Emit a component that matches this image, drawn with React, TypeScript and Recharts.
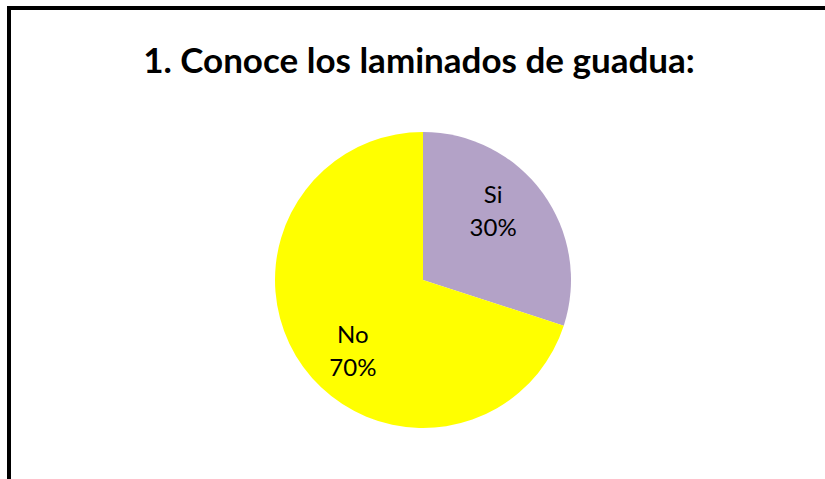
import { PieChart, Pie, Cell } from 'recharts'

const categories = ['Si', 'No']
const values = [30, 70]
const colors = ['#B3A2C7', '#FFFF00']

const data = categories.map((name, i) => ({ name, value: values[i] }))

const RAD = Math.PI / 180

function renderLabel(props: any) {
    const { cx, cy, midAngle, outerRadius, name, percent } = props
    const a = (midAngle + 9) * RAD
    const r = outerRadius * 0.67
    const x = cx + r * Math.cos(a)
    const y = cy - r * Math.sin(a)
    return (
        <text x={x} y={y} textAnchor="middle" fill="#000" fontFamily="Lato, 'Open Sans', sans-serif" fontSize={24}>
            <tspan x={x} dy={-7}>{name}</tspan>
            <tspan x={x} dy={33}>{`${Math.round(percent * 100)}%`}</tspan>
        </text>
    )
}

export default function App() {
    return (
        <div style={{ position: 'absolute', left: 0, top: 0, width: 825, height: 479, overflow: 'hidden', background: '#fff' }}>
            {/* frame: only top and left edges fall inside the picture */}
            <div style={{ position: 'absolute', left: 7, top: 6, width: 818, height: 4, background: '#000' }} />
            <div style={{ position: 'absolute', left: 7, top: 6, width: 4, height: 473, background: '#000' }} />
            <div style={{
                position: 'absolute', left: 0, top: 38, width: 838, textAlign: 'center',
                fontFamily: "Lato, 'Open Sans', sans-serif", fontWeight: 700, fontSize: 35, lineHeight: '42px', color: '#000'
            }}>
                1. Conoce los laminados de guadua:
            </div>
            <div style={{ position: 'absolute', left: 0, top: 0 }}>
                <PieChart width={825} height={479} margin={{ top: 0, right: 0, bottom: 0, left: 0 }}>
                    <Pie
                        data={data}
                        dataKey="value"
                        nameKey="name"
                        cx={423}
                        cy={280}
                        outerRadius={148}
                        startAngle={90}
                        endAngle={-270}
                        stroke="none"
                        label={renderLabel}
                        labelLine={false}
                        isAnimationActive={false}
                    >
                        {data.map((d, i) => <Cell key={d.name} fill={colors[i]} />)}
                    </Pie>
                </PieChart>
            </div>
        </div>
    )
}
